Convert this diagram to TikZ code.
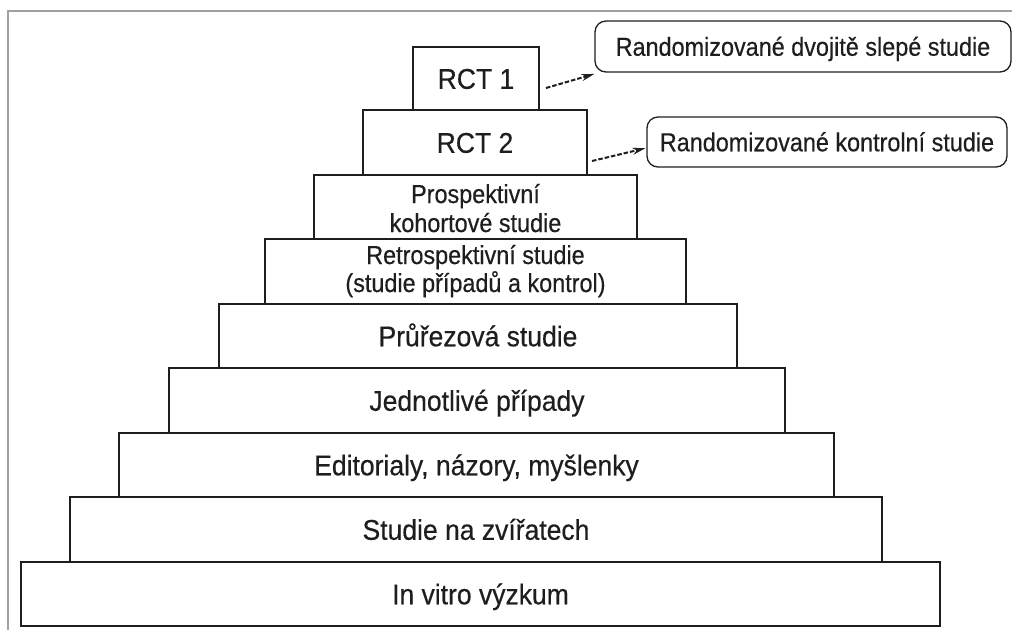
\documentclass[tikz,border=0pt]{standalone}
\usepackage{fontspec}
\setmainfont{Liberation Sans}
\newfontfamily\tierfont[FakeStretch=0.93,FakeBold=0.4]{Liberation Sans}
\newfontfamily\smallfont[FakeStretch=0.9,FakeBold=0.4]{Liberation Sans}
\usetikzlibrary{arrows.meta}
\definecolor{ink}{HTML}{1E1E1E}
\definecolor{framegray}{HTML}{A0A0A0}
\begin{document}
\begin{tikzpicture}[x=1pt,y=-1pt,
  tier/.style={draw=ink,line width=1.6pt,fill=white,inner sep=0pt,text=ink,
    font=\tierfont\fontsize{28.5}{30}\selectfont,text height=20.5pt,text depth=0pt},
  twolab/.style={anchor=base,inner sep=0pt,text=ink,font=\smallfont\fontsize{26}{28}\selectfont},
  callout/.style={draw=ink,line width=1.3pt,rounded corners=11pt,fill=white,inner sep=0pt,
    text=ink,font=\smallfont\fontsize{26}{28}\selectfont,text height=18.5pt,text depth=0pt},
  arr/.style={draw=ink,line width=2pt,dash pattern=on 4.5pt off 2pt,
    -{Stealth[length=13pt,width=7pt]},shorten >=1pt}
]
\useasboundingbox (0,0) rectangle (1012,630);
\fill[white] (0,0) rectangle (1012,630);
% frame
\draw[framegray,line width=2pt] (8,630) -- (8,11) -- (1012,11);

% tiers (bottom to top)
\node[tier,minimum width=919pt,minimum height=64pt] (invitro) at (480.5,594) {In vitro výzkum};
\node[tier,minimum width=812pt,minimum height=65pt] (zvirata) at (476,529.5) {Studie na zvířatech};
\node[tier,minimum width=715pt,minimum height=64pt] (editorialy) at (476.5,465) {Editorialy, názory, myšlenky};
\node[tier,minimum width=616pt,minimum height=65pt] (pripady) at (477,400.5) {Jednotlivé případy};
\node[tier,minimum width=518pt,minimum height=64pt] (prurez) at (478,336) {Průřezová studie};
\node[tier,minimum width=421pt,minimum height=65pt] (retro) at (475.5,271.5) {};
\node[tier,minimum width=323pt,minimum height=64pt] (prosp) at (475.5,207) {};
\node[tier,minimum width=224pt,minimum height=65pt] (rct2) at (475,142.5) {RCT 2};
\node[tier,minimum width=126pt,minimum height=63pt] (rct1) at (476,78.5) {RCT 1};

% two-line labels
\node[twolab] (prospA) at (475.5,203) {Prospektivní};
\node[twolab] (prospB) at (475.5,232) {kohortové studie};
\node[twolab] (retroA) at (475.5,264) {Retrospektivní studie};
\node[twolab] (retroB) at (475.5,292) {(studie případů a kontrol)};

% callouts
\node[callout,minimum width=416pt,minimum height=51pt] (c1) at (803,46.5) {Randomizované dvojitě slepé studie};
\node[callout,minimum width=360pt,minimum height=50pt] (c2) at (827,142) {Randomizované kontrolní studie};

% arrows
\coordinate (a1s) at (546,88);
\coordinate (a2s) at (592,161);
\draw[arr] (a1s) -- ([xshift=1pt,yshift=-1pt]c1.south west);
\draw[arr] (a2s) -- ([yshift=-6pt]c2.west);
\end{tikzpicture}
\end{document}
